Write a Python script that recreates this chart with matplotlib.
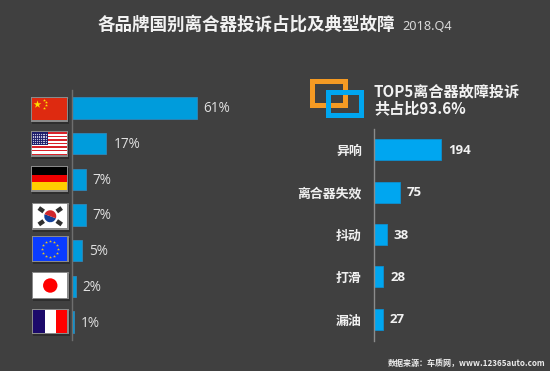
import numpy as np
import matplotlib
matplotlib.use('Agg')
import matplotlib.pyplot as plt
from matplotlib.patches import Rectangle, Circle, Wedge

CJK = ['Noto Sans CJK SC', 'DejaVu Sans']
plt.rcParams['font.family'] = CJK

countries = ['中国', '美国', '德国', '韩国', '欧盟', '日本', '法国']
shares = [61, 17, 7, 7, 5, 2, 1]
faults = ['异响', '离合器失效', '抖动', '打滑', '漏油']
counts = [194, 75, 38, 28, 27]

BG = '#404040'
W, H = 550, 371
fig = plt.figure(figsize=(5.5, 3.71), dpi=100, facecolor=BG)

def px_axes(x0, y0, x1, y1):
    return fig.add_axes([x0 / W, 1 - y1 / H, (x1 - x0) / W, (y1 - y0) / H])

# overlay in pixel coordinates for the decoration
deco = fig.add_axes([0, 0, 1, 1])
deco.set_xlim(0, W); deco.set_ylim(H, 0); deco.axis('off')

def rect(x, y, w, h, c, z=3, **kw):
    deco.add_patch(Rectangle((x, y), w, h, fc=c, ec='none', zorder=z, **kw))

def frame(x0, y0, x1, y1):
    rect(x0 + 1, y0 + 2, x1 - x0, y1 - y0, '#2e2e2e', z=1)
    rect(x0, y0, x1 - x0, y1 - y0, '#8a8a8a', z=2)
    return x0 + 1.2, y0 + 1.2, x1 - x0 - 2.4, y1 - y0 - 2.4

# China
x, y, w, h = frame(30.5, 96.5, 68, 121.5)
rect(x, y, w, h, '#de2a10')
deco.scatter([37], [103.5], marker='*', s=34, c='#ffde00', lw=0, zorder=4)
deco.scatter([43.5, 45.5, 45.5, 43.5], [99.5, 102, 105, 107.5], marker='*', s=5, c='#ffde00', lw=0, zorder=4)

# USA
x, y, w, h = frame(30.5, 131, 68, 156.5)
rect(x, y, w, h, 'white')
sh = h / 13
for i in range(0, 13, 2):
    rect(x, y + i * sh, w, sh * 0.75, '#d8222a', z=4)
rect(x, y, w * 0.46, h * 0.54, '#1c1c6a', z=5)
sx, sy = np.meshgrid(np.linspace(x + 1.5, x + w * 0.46 - 1.5, 8), np.linspace(y + 1.5, y + h * 0.54 - 1.5, 6))
deco.scatter(sx.ravel(), sy.ravel(), s=0.8, c='#c8c8e0', lw=0, zorder=6)

# Germany
x, y, w, h = frame(30.5, 165.5, 68, 191.5)
rect(x, y, w, h / 3, 'black')
rect(x, y + h / 3, w, h / 3, '#ee0000')
rect(x, y + 2 * h / 3, w, h / 3, '#ffce00')

# Korea
x, y, w, h = frame(32, 203, 68.5, 229.5)
rect(x, y, w, h, 'white')
cx, cy = x + w / 2, y + h / 2
deco.add_patch(Wedge((cx, cy), 6, 20, 200, fc='#12409a', ec='none', zorder=4))
deco.add_patch(Wedge((cx, cy), 6, 200, 380, fc='#d0262c', ec='none', zorder=4))
for dx, dy, ang in [(-9, -6.5, 35), (9, -6.5, -35), (-9, 6.5, -35), (9, 6.5, 35)]:
    deco.add_patch(Rectangle((cx + dx - 3, cy + dy - 2.2), 6, 4.4, angle=ang, rotation_point='center',
                             fc='#303030', ec='none', zorder=4))

# EU
x, y, w, h = frame(32, 236, 68.5, 262)
rect(x, y, w, h, '#0a3cff')
ang = np.arange(12) * np.pi / 6
deco.scatter(x + w / 2 + 8 * np.cos(ang), y + h / 2 + 8 * np.sin(ang), marker='*', s=5, c='#e8c820', lw=0, zorder=4)

# Japan
x, y, w, h = frame(32, 272, 68.5, 299)
rect(x, y, w, h, 'white')
deco.add_patch(Circle((x + w / 2, y + h / 2), 7.2, fc='#ff0000', ec='none', zorder=4))

# France
x, y, w, h = frame(32, 308.5, 68.5, 334)
rect(x, y, w, h, 'white')
rect(x, y, w / 3, h, '#1c0a6a', z=4)
rect(x + 2 * w / 3, y, w / 3, h, '#ff0000', z=4)

# legend-like squares
def hollow(x0, y0, x1, y1, c, t=4.7, z=3):
    rect(x0, y0, x1 - x0, t, c, z)
    rect(x0, y1 - t, x1 - x0, t, c, z)
    rect(x0, y0, t, y1 - y0, c, z)
    rect(x1 - t, y0, t, y1 - y0, c, z)
hollow(310, 79, 347.5, 107.7, '#f59a23')
hollow(326, 90, 363.7, 118, '#00a6f0', z=4)

# titles
deco.text(98, 24.5, '各品牌国别离合器投诉占比及典型故障', fontsize=12.65, fontweight='bold', color='#f2f2f2', va='center', ha='left')
deco.text(402, 26, '2018.Q4', fontsize=9.2, color='#d8d8d8', va='center', ha='left', family=['Noto Sans'])
deco.text(374, 91.5, 'TOP5离合器故障投诉', fontsize=10.9, fontweight='bold', color='#f2f2f2', va='center', ha='left')
deco.text(374, 108.5, '共占比93.6%', fontsize=10.9, fontweight='bold', color='#f2f2f2', va='center', ha='left')
deco.text(545, 363, '数据来源：车质网，www.12365auto.com', fontsize=5.8, fontweight='bold', color='#ececec', va='center', ha='right')

# left chart
ax1 = px_axes(71.5, 90, 255, 340)
ax1.patch.set_alpha(0)
ypos = np.arange(len(countries))
ax1.barh(ypos, shares, height=0.6, left=0, color='#009cdc', edgecolor='#2f86b8', linewidth=0.6)
ax1.set_xlim(0, 183.5 / 2.05)
ax1.set_ylim(len(countries) - 0.5, -0.5)
ax1.set_xticks([]); ax1.set_yticks([])
for s in ['top', 'right', 'bottom']:
    ax1.spines[s].set_visible(False)
ax1.spines['left'].set_color('#6e6e6e'); ax1.spines['left'].set_linewidth(1)
for i, v in enumerate(shares):
    ax1.annotate(f'{v}%', (v, i), xytext=(5, -0.7), textcoords='offset points', fontsize=9.8, color='#e0e0e0',
                 va='center', ha='left', family=['Open Sans'])

# right chart
ax2 = px_axes(373.5, 128.5, 545, 340.5)
ax2.patch.set_alpha(0)
ypos2 = np.arange(len(faults))
ax2.barh(ypos2, counts, height=0.5, color='#00a6f0', edgecolor='#0c8fd0', linewidth=0.6)
ax2.set_xlim(0, 171.5 / 0.35)
ax2.set_ylim(len(faults) - 0.5, -0.5)
ax2.set_xticks([])
ax2.set_yticks(ypos2, faults)
ax2.tick_params(axis='y', length=0, pad=8.5, labelsize=9.3, labelcolor='#f0f0f0')
for t in ax2.get_yticklabels():
    t.set_fontweight('bold')
for s in ['top', 'right', 'bottom']:
    ax2.spines[s].set_visible(False)
ax2.spines['left'].set_color('#8c8c8c'); ax2.spines['left'].set_linewidth(1)
for i, v in enumerate(counts):
    ax2.annotate(str(v), (v, i), xytext=(5, -0.5), textcoords='offset points', fontsize=9.5, fontweight='bold',
                 color='#f2f2f2', va='center', ha='left', family=['Open Sans'])

fig.savefig('out.png', dpi=100, facecolor=BG)
